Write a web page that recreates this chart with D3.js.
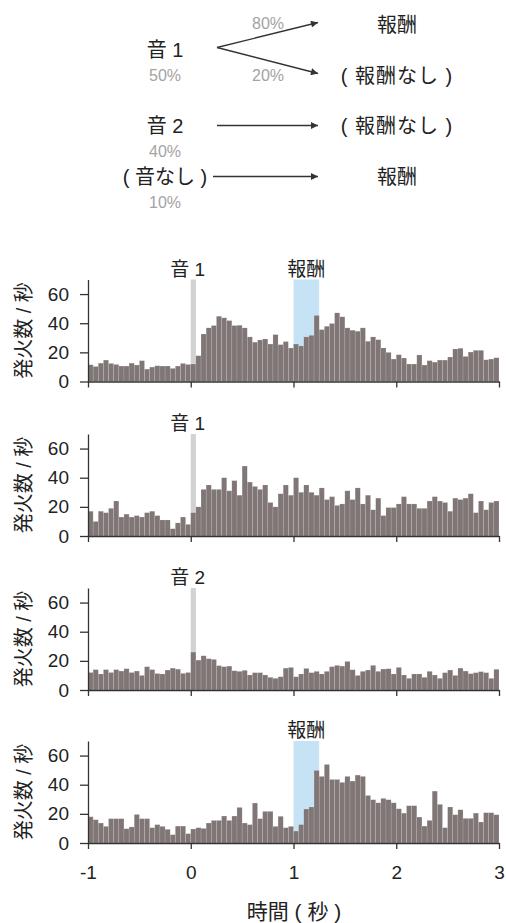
<!DOCTYPE html>
<html>
<head>
<meta charset="utf-8">
<script src="https://cdn.jsdelivr.net/npm/d3@7"></script>
<style>
  body { margin: 0; background: #fff; }
  svg { display: block; font-family: "Liberation Sans", "Noto Sans CJK JP", sans-serif; }
</style>
</head>
<body>
<svg width="506" height="923"></svg>
<script>
// ---- data ----
// diagram
const cues = ['音 1', '音 2', '( 音なし )'];
const cueProbs = ['50%', '40%', '10%'];
const outcomes = ['報酬', '( 報酬なし )', '( 報酬なし )', '報酬'];
const branchProbs = ['80%', '20%'];

// histograms: firing rate per 50 ms bin, -1 s .. 3 s (80 bins)
const binStart = -1;
const binWidth = 0.05;
const tone1RewardRates = [
  11.5, 10.3, 12.6, 14.7, 12.4, 11.7, 10.6, 10.6, 12.6, 11.3, 14.3, 8.5, 9.9, 10.8, 10.6, 10.6, 9, 10.6, 12.4, 11.7,
  12, 17.7, 32.6, 36.8, 38.4, 44.8, 43.7, 41.8, 38.4, 38.6, 36.8, 30.6, 27, 28.5, 29.2, 25.7, 32.2, 25.3, 27.4, 23,
  25.7, 24.4, 30.6, 31.7, 45.3, 35.6, 37.9, 39.8, 47.1, 44.4, 36.8, 35.2, 34.5, 36.8, 27.6, 30.6, 28.7, 23, 20, 15.4,
  18.4, 16.1, 12, 12, 18.2, 11.3, 14.3, 13.3, 14.7, 14.7, 16.8, 22.3, 22.8, 17.2, 20.2, 21.4, 21.4, 14.9, 15.4, 16.3
];
const tone1NoRewardRates = [
  17, 10, 17, 16, 19, 24, 13, 15, 13, 14, 13, 16, 17, 14, 11, 11, 5, 9, 13, 8,
  16, 20, 32, 35, 32, 32, 40, 31, 38, 28, 48, 37, 34, 32, 35, 23, 20, 29, 35, 28,
  40, 30, 35, 30, 28, 33, 25, 27, 21, 22, 31, 25, 33, 22, 28, 18, 26, 14, 19.5, 19.5,
  22, 27, 22, 22, 19, 19, 24, 27, 24, 23, 17, 26, 25, 26, 29, 16, 24, 18, 23, 24
];
const tone2Rates = [
  12, 14, 11, 14, 12, 14, 13, 14.6, 12, 13, 10, 16, 14, 11.3, 11, 13.7, 15, 14.3, 11.4, 12,
  26, 20.5, 23.5, 21.5, 21, 16.7, 16, 16.4, 13.2, 12.8, 13.5, 10.3, 11.9, 11.9, 10.3, 8.7, 8, 9.1, 15, 15.5,
  9.1, 11, 14.8, 11.9, 12.8, 11, 12.8, 16, 16.9, 16.4, 19.6, 13.9, 10, 12.8, 13.7, 16.9, 12.8, 14.4, 14.6, 11,
  15.5, 10.3, 8, 11, 11, 8.7, 12.8, 10.3, 8, 11.9, 13.7, 10, 15, 13, 11.2, 11.9, 12.6, 11.9, 8, 14.2
];
const noToneRewardRates = [
  18, 16, 13.7, 11.4, 16.7, 16.7, 16.7, 9.8, 11, 19.6, 16.7, 16.7, 10.5, 12.6, 11.4, 9.4, 5.7, 11.6, 11.6, 6.4,
  9.6, 10.5, 10, 13.7, 15.5, 15.5, 18.5, 15.5, 18.5, 24.4, 13.7, 12.6, 27.4, 16.7, 21.7, 21.7, 11.4, 18.3, 10.5, 11.4,
  8.2, 12.6, 23.3, 24.7, 49.8, 45.7, 53.9, 43.6, 43.6, 41.6, 45.7, 42.5, 46.6, 45.7, 32.6, 29.7, 27.6, 30.6, 29.7, 27.6,
  23.5, 20.5, 25.6, 25.6, 17.8, 11.6, 15.5, 35.6, 26.5, 10.5, 24.7, 19.4, 22.8, 16.9, 16.9, 20.5, 14.4, 20.8, 20.8, 19.4
];
// event windows [start, end] in s
const toneWindow = [0, 0.05];
const rewardWindow = [1, 1.25];
const yTicks = [0, 20, 40, 60];
const xTicks = [-1, 0, 1, 2, 3];

const panels = [
  { rates: tone1RewardRates, tone: '音 1', reward: '報酬' },
  { rates: tone1NoRewardRates, tone: '音 1', reward: null },
  { rates: tone2Rates, tone: '音 2', reward: null },
  { rates: noToneRewardRates, tone: null, reward: '報酬' }
];

// ---- layout ----
const svg = d3.select('svg');
const ink = '#333';
const grey = '#a3a3a3';
const barColor = '#807676';
const latin = '"Liberation Sans", Arial, sans-serif';

const x = d3.scaleLinear().domain([-1, 3]).range([88, 499]);
const baselines = [381.5, 536, 690, 843];
const panelH = 102;

// ---- top diagram ----
const defs = svg.append('defs');
defs.append('marker')
  .attr('id', 'arrow')
  .attr('viewBox', '0 0 10 10')
  .attr('refX', 10).attr('refY', 5)
  .attr('markerWidth', 9).attr('markerHeight', 7)
  .attr('markerUnits', 'userSpaceOnUse')
  .attr('orient', 'auto')
  .append('path')
  .attr('d', 'M0,0 L10,5 L0,10 z')
  .attr('fill', ink);

const diag = svg.append('g').attr('font-size', 20).attr('fill', '#222');
const cueX = 165, outX = 397;
const cueY = [57, 133, 184];

diag.selectAll('text.cue').data(cues).enter().append('text')
  .attr('class', 'cue')
  .attr('x', cueX).attr('y', (d, i) => cueY[i])
  .attr('text-anchor', 'middle')
  .text(d => d);

diag.selectAll('text.cueprob').data(cueProbs).enter().append('text')
  .attr('class', 'cueprob')
  .attr('x', cueX).attr('y', (d, i) => cueY[i] + 24)
  .attr('text-anchor', 'middle')
  .attr('font-size', 16).attr('fill', grey)
  .text(d => d);

const outY = [32, 83, 133, 184];
diag.selectAll('text.out').data(outcomes).enter().append('text')
  .attr('class', 'out')
  .attr('x', outX).attr('y', (d, i) => outY[i])
  .attr('text-anchor', 'middle')
  .attr('letter-spacing', (d) => d.length > 3 ? 1 : 0)
  .text(d => d);

const arrows = [
  [217, 47.5, 318, 22.5],
  [217, 47.5, 318, 73.5],
  [217, 125.5, 318, 125.5],
  [213, 176.5, 318, 176.5]
];
diag.selectAll('line.arr').data(arrows).enter().append('line')
  .attr('x1', d => d[0]).attr('y1', d => d[1])
  .attr('x2', d => d[2]).attr('y2', d => d[3])
  .attr('stroke', ink).attr('stroke-width', 1.4)
  .attr('marker-end', 'url(#arrow)');

diag.selectAll('text.branch').data(branchProbs).enter().append('text')
  .attr('x', 268).attr('y', (d, i) => [29, 81][i])
  .attr('text-anchor', 'middle')
  .attr('font-size', 16).attr('fill', grey)
  .text(d => d);

// ---- histograms ----
panels.forEach((p, k) => {
  const base = baselines[k];
  const y = d3.scaleLinear().domain([0, 70]).range([base, base - panelH]);
  const g = svg.append('g');

  if (p.tone) {
    g.append('rect')
      .attr('x', x(toneWindow[0])).attr('width', x(toneWindow[1]) - x(toneWindow[0]))
      .attr('y', y(70)).attr('height', y(0) - y(70))
      .attr('fill', '#d2d2d2');
    g.append('text')
      .attr('x', x(toneWindow[0]) - 3).attr('y', y(70) - 4)
      .attr('text-anchor', 'middle').attr('font-size', 19).attr('fill', '#222')
      .text(p.tone);
  }
  if (p.reward) {
    g.append('rect')
      .attr('x', x(rewardWindow[0])).attr('width', x(rewardWindow[1]) - x(rewardWindow[0]))
      .attr('y', y(70)).attr('height', y(0) - y(70))
      .attr('fill', '#c6e3f5');
    g.append('text')
      .attr('x', x((rewardWindow[0] + rewardWindow[1]) / 2)).attr('y', y(70) - 4)
      .attr('text-anchor', 'middle').attr('font-size', 19).attr('fill', '#222')
      .text(p.reward);
  }

  g.selectAll('rect.bar').data(p.rates).enter().append('rect')
    .attr('class', 'bar')
    .attr('x', (d, i) => x(binStart + i * binWidth))
    .attr('width', (d, i) => x(binStart + (i + 1) * binWidth) - x(binStart + i * binWidth))
    .attr('y', d => y(d))
    .attr('height', d => y(0) - y(d))
    .attr('fill', barColor)
    .attr('stroke', 'rgba(255,255,255,0.25)')
    .attr('stroke-width', 0.5);

  const ya = g.append('g')
    .attr('transform', `translate(${x(-1)},0)`)
    .call(d3.axisLeft(y).tickValues(yTicks).tickSize(8).tickSizeOuter(0).tickPadding(11)
      .tickFormat(d => String(d)));
  ya.select('.domain').attr('stroke', ink).attr('stroke-width', 1.3);
  ya.selectAll('.tick line').attr('stroke', ink).attr('stroke-width', 1.3);
  ya.selectAll('.tick text').attr('font-size', 19).attr('fill', '#222')
    .attr('font-family', latin);

  const xa = g.append('g')
    .attr('transform', `translate(0,${base})`)
    .call(d3.axisBottom(x).tickValues(xTicks).tickSize(6).tickSizeOuter(0).tickPadding(17)
      .tickFormat(d => String(d)));
  xa.select('.domain').attr('stroke', ink).attr('stroke-width', 1.3);
  xa.selectAll('.tick line').attr('stroke', ink).attr('stroke-width', 1.3);
  xa.selectAll('.tick text').attr('font-size', 19).attr('fill', '#222')
    .attr('font-family', latin)
    .style('display', k === panels.length - 1 ? null : 'none');

  g.append('text')
    .attr('transform', `translate(31,${base - panelH / 2}) rotate(-90)`)
    .attr('text-anchor', 'middle')
    .attr('font-size', 20).attr('fill', '#222')
    .text('発火数 / 秒');
});

svg.append('text')
  .attr('x', 294).attr('y', 919)
  .attr('text-anchor', 'middle')
  .attr('font-size', 21).attr('fill', '#222')
  .text('時間 ( 秒 )');
</script>
</body>
</html>
